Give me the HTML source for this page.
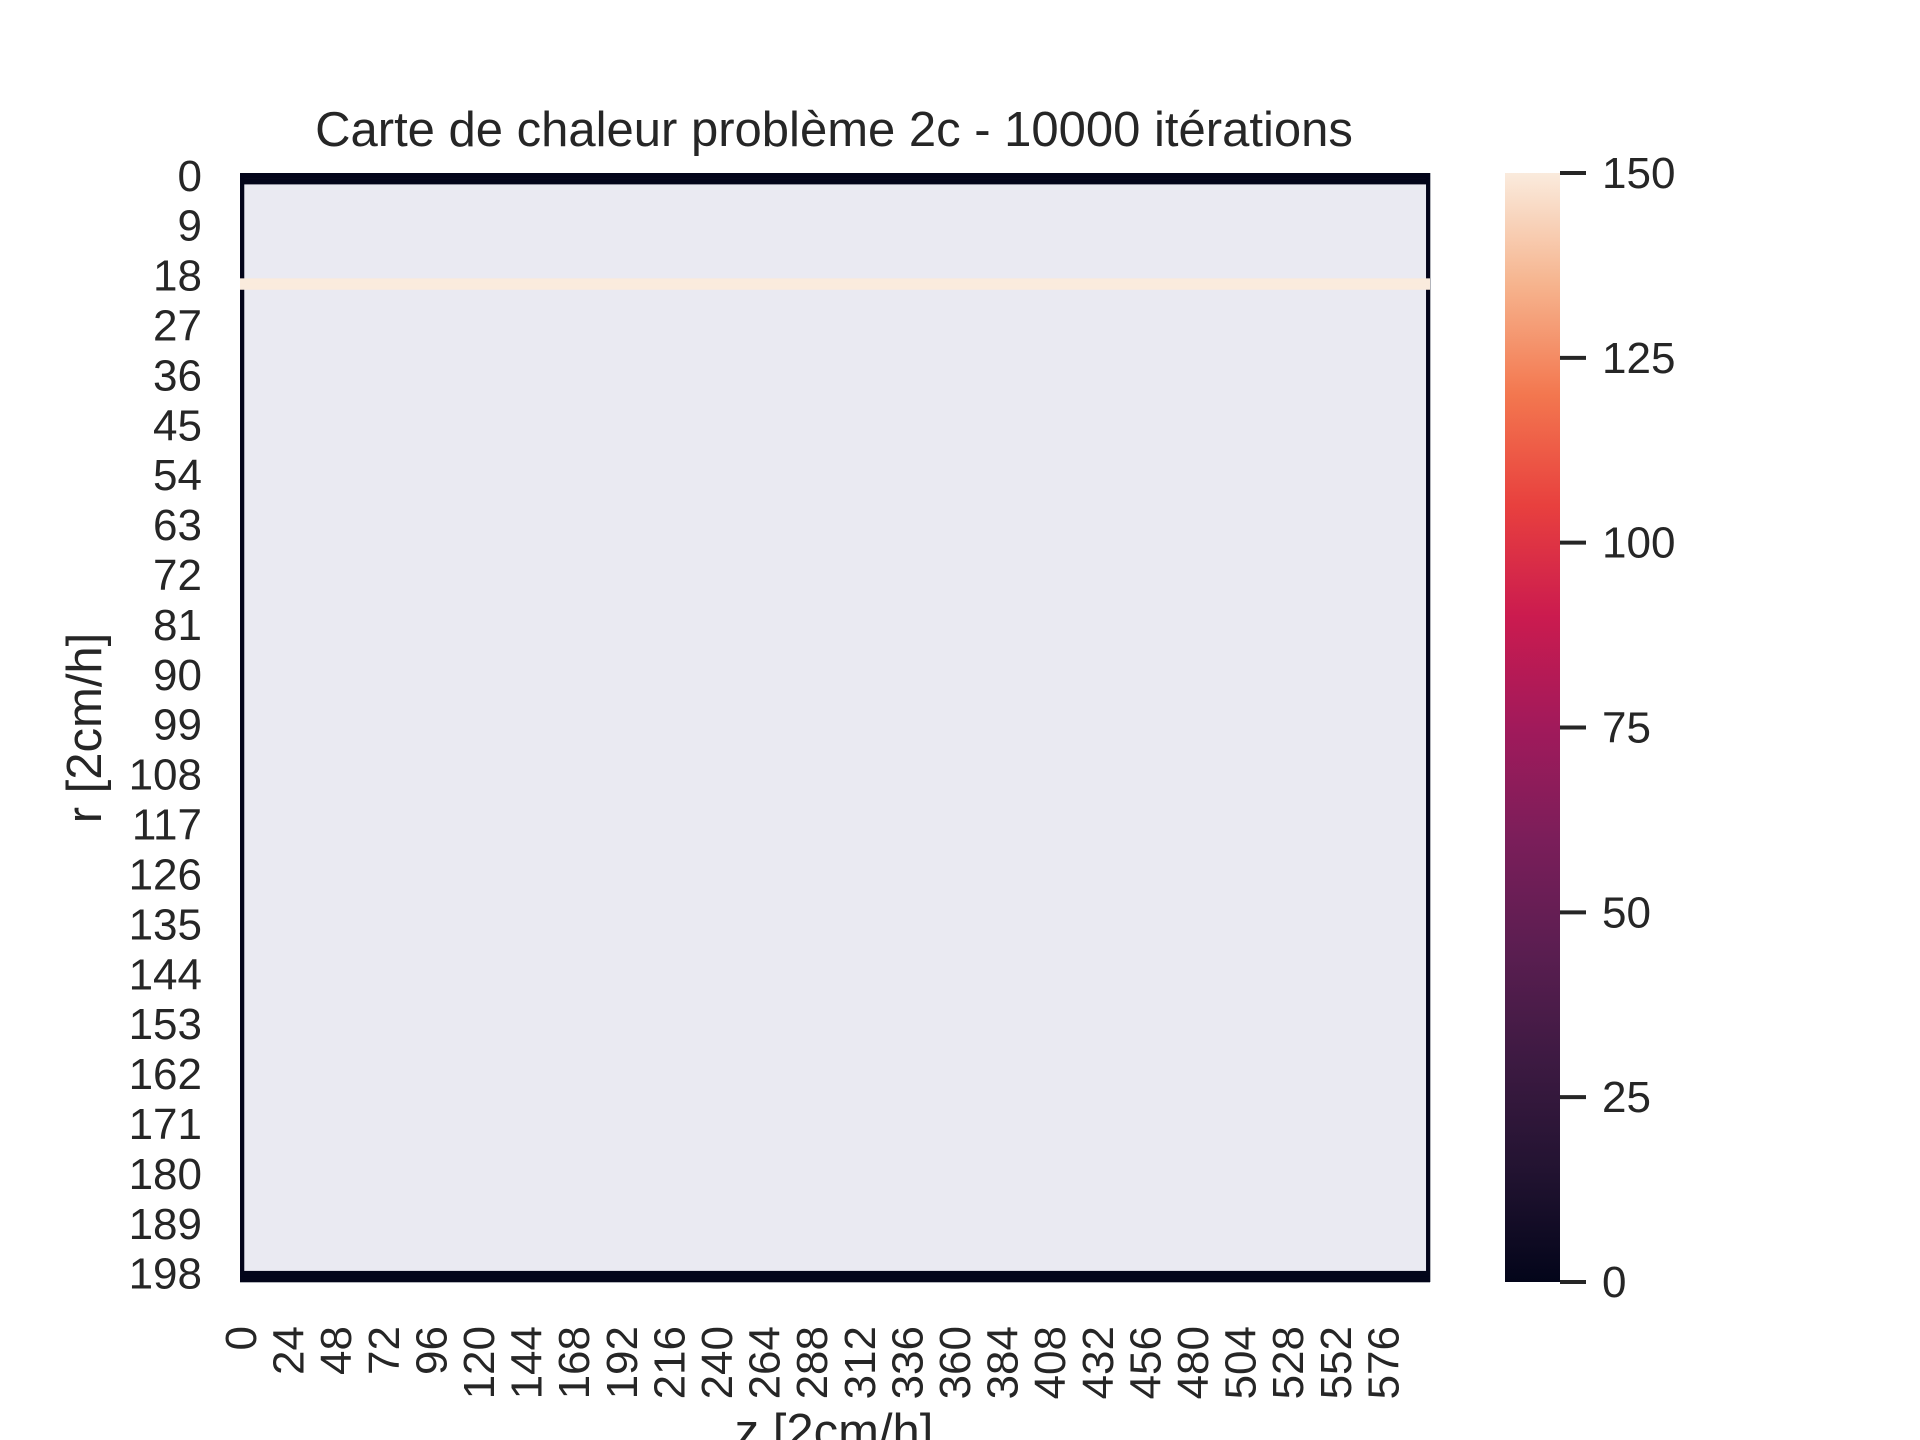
<!DOCTYPE html>
<html><head><meta charset="utf-8">
<style>
html,body{margin:0;padding:0;background:#fff;}
svg{display:block;font-family:"Liberation Sans",Arial,sans-serif;}
</style></head>
<body>
<svg id="chart" width="1920" height="1440" viewBox="0 0 1920 1440" xmlns="http://www.w3.org/2000/svg">
<defs>
<linearGradient id="rocket" x1="0" y1="1" x2="0" y2="0">
<stop offset="0" stop-color="#03051a"/>
<stop offset="0.1" stop-color="#221331"/>
<stop offset="0.2" stop-color="#3d1a42"/>
<stop offset="0.3" stop-color="#5b1e51"/>
<stop offset="0.4" stop-color="#7b1e5a"/>
<stop offset="0.5" stop-color="#a11a5b"/>
<stop offset="0.6" stop-color="#cb1b4f"/>
<stop offset="0.7" stop-color="#e8403e"/>
<stop offset="0.8" stop-color="#f3774f"/>
<stop offset="0.9" stop-color="#f6b48e"/>
<stop offset="1" stop-color="#faebdd"/>
</linearGradient>
</defs>
<text x="834" y="146" font-size="49" fill="#262626" text-anchor="middle">Carte de chaleur problème 2c - 10000 itérations</text>
<g id="plot"></g>
<g id="yticks"></g>
<g id="xticks"></g>
<text transform="translate(101,728) rotate(-90)" font-size="49" fill="#262626" text-anchor="middle">r [2cm/h]</text>
<text x="834" y="1448" font-size="49" fill="#262626" text-anchor="middle">z [2cm/h]</text>
<rect x="1505" y="173" width="55" height="1109" fill="url(#rocket)"/>
<g id="cbticks"></g>
</svg>
<script>
const nRows = 200;
const nCols = 600;
const hotRows = [19, 20];
const hotValue = 150;
const coldRows = [0, 1, 198, 199];
const coldCols = [0, 1, 598, 599];
const coldValue = 0;
const yTickLabels = [0,9,18,27,36,45,54,63,72,81,90,99,108,117,126,135,144,153,162,171,180,189,198];
const xTickLabels = [0,24,48,72,96,120,144,168,192,216,240,264,288,312,336,360,384,408,432,456,480,504,528,552,576];
const cbTicks = [0,25,50,75,100,125,150];

const X0=240, X1=1430, Y0=173, Y1=1282, vmin=0, vmax=150;
const cw=(X1-X0)/nCols, rh=(Y1-Y0)/nRows;
const xs=c=>X0+c*cw, ys=r=>Y0+r*rh;
const cy=v=>Y1-(v-vmin)/(vmax-vmin)*(Y1-Y0);
const stops=[[0,[3,5,26]],[.1,[34,19,49]],[.2,[61,26,66]],[.3,[91,30,81]],[.4,[123,30,90]],[.5,[161,26,91]],[.6,[203,27,79]],[.7,[232,64,62]],[.8,[243,119,79]],[.9,[246,180,142]],[1,[250,235,221]]];
function cmap(v){const t=(v-vmin)/(vmax-vmin);for(let i=1;i<stops.length;i++){if(t<=stops[i][0]){const a=stops[i-1],b=stops[i],f=(t-a[0])/(b[0]-a[0]);return 'rgb('+a[1].map((x,k)=>Math.round(x+(b[1][k]-x)*f)).join(',')+')';}}return 'rgb(250,235,221)';}
const NS='http://www.w3.org/2000/svg';
function mk(tag,attrs,parent){const e=document.createElementNS(NS,tag);for(const k in attrs)e.setAttribute(k,attrs[k]);parent.appendChild(e);return e;}
const plot=document.getElementById('plot');
const bg=mk('rect',{x:X0,y:Y0,width:X1-X0,height:Y1-Y0,fill:'#eaeaf2'},plot);


coldCols.forEach(c=>{const e=mk('rect',{x:xs(c),y:Y0,width:cw+0.3,height:Y1-Y0,fill:cmap(coldValue)},plot);

});
coldRows.forEach(r=>{const e=mk('rect',{x:X0,y:ys(r),width:X1-X0,height:rh+0.3,fill:cmap(coldValue)},plot);

});
hotRows.forEach(r=>{const e=mk('rect',{x:X0,y:ys(r),width:X1-X0,height:rh+0.3,fill:cmap(hotValue)},plot);

});
const yt=document.getElementById('yticks');
yTickLabels.forEach(v=>{const t=mk('text',{x:202,y:ys(v+0.5)+15,'font-size':44,fill:'#262626','text-anchor':'end'},yt);t.textContent=v;

});
const xt=document.getElementById('xticks');
xTickLabels.forEach(v=>{const x=xs(v+0.5)+15;const t=mk('text',{transform:'translate('+x+',1326) rotate(-90)','font-size':44,fill:'#262626','text-anchor':'end'},xt);t.textContent=v;

});
const cb=document.getElementById('cbticks');
cbTicks.forEach(v=>{const y=cy(v);const l=mk('line',{x1:1560,x2:1586,y1:y,y2:y,stroke:'#262626','stroke-width':4},cb);


const t=mk('text',{x:1602,y:y+15,'font-size':44,fill:'#262626'},cb);t.textContent=v;

});
</script>
</body></html>
